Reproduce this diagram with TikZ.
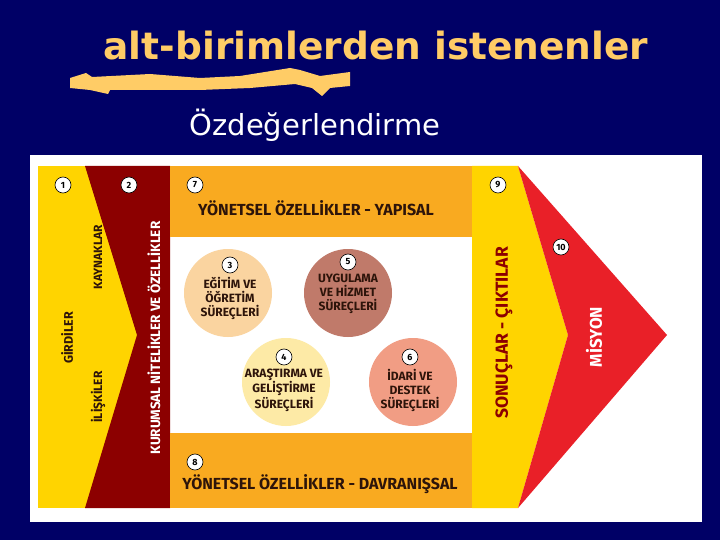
\documentclass[tikz,border=0pt]{standalone}
\usepackage{fontspec}
\usetikzlibrary{positioning}
\newfontfamily\lblfont{Fira Sans}
\newfontfamily\ttlfont{DejaVu Sans}
\definecolor{navy}{RGB}{0,0,102}
\definecolor{sari}{RGB}{255,212,0}
\definecolor{bordo}{RGB}{140,0,0}
\definecolor{turuncu}{RGB}{249,170,32}
\definecolor{kirmizi}{RGB}{233,32,40}
\definecolor{baslik}{RGB}{255,204,102}
\definecolor{c3}{RGB}{250,212,160}
\definecolor{c5}{RGB}{192,122,106}
\definecolor{c4}{RGB}{253,234,166}
\definecolor{c6}{RGB}{241,157,132}
\definecolor{koyu}{RGB}{45,20,10}
\tikzset{
  num/.style={circle,draw=black,fill=white,line width=0.6pt,inner sep=0pt,minimum size=16pt,
    font=\lblfont\bfseries\fontsize{9}{9}\selectfont},
  surec/.style={circle,minimum size=88pt,inner sep=0pt},
  yazi/.style={align=center,text=koyu,font=\lblfont\bfseries\fontsize{12}{14}\selectfont},
  bant/.style={text=koyu,font=\lblfont\bfseries\fontsize{16}{16}\selectfont},
  dikey/.style={rotate=90,font=\lblfont\bfseries\fontsize{#1}{#1}\selectfont}
}
\begin{document}
\begin{tikzpicture}[x=1pt,y=-1pt]
    \fill[navy] (0,0) rectangle (720,540);
    \useasboundingbox (0,0) rectangle (720,540);
    % baslik
    \node[text=baslik,font=\ttlfont\bfseries\fontsize{37.5}{37.5}\selectfont] (ttl) at (376,46) {alt-birimlerden istenenler};
    \fill[baslik] (70,78) -- (86,73) -- (92,77) -- (150,74) -- (200,78) -- (240,76) -- (290,68) -- (300,70)
      -- (320,76) -- (350,72) -- (350,86) -- (330,88) -- (322,96) -- (312,88) -- (295,84) -- (250,88)
      -- (200,90) -- (150,90) -- (110,90) -- (108,94) -- (90,90) -- (70,88) -- cycle;
    \node[text=white,font=\ttlfont\fontsize{29}{29}\selectfont] (alt) at (315,125) {Özdeğerlendirme};
    % panel
    \fill[white] (30,155) rectangle (702,522);
    \fill[sari] (38,166) rectangle (170,508);
    \fill[bordo] (85,166) -- (170,166) -- (170,508) -- (85,508) -- (137,335) -- cycle;
    \fill[turuncu] (170,166) rectangle (472,237);
    \fill[turuncu] (170,433) rectangle (472,508);
    \fill[sari] (472,166) -- (518,166) -- (568,335) -- (518,508) -- (472,508) -- cycle;
    \fill[kirmizi] (518,166) -- (667,335) -- (518,508) -- (568,335) -- cycle;
    % surecler
    \node[surec,fill=c3] (s3) at (228,293) {};
    \node[surec,fill=c5] (s5) at (348,293) {};
    \node[surec,fill=c4] (s4) at (286,382) {};
    \node[surec,fill=c6] (s6) at (413,382) {};
    \node[num] (n3) at (230,265) {3};
    \node[num] (n5) at (348,262) {5};
    \node[num] (n4) at (284,357) {4};
    \node[num] (n6) at (410,357) {6};
    \node[yazi,below=0pt of n3] (t3) {EĞİTİM VE\\ÖĞRETİM\\SÜREÇLERİ};
    \node[yazi,below=0pt of n5] (t5) {UYGULAMA\\VE HİZMET\\SÜREÇLERİ};
    \node[yazi,below=0pt of n4] (t4) {ARAŞTIRMA VE\\GELİŞTİRME\\SÜREÇLERİ};
    \node[yazi,below=0pt of n6] (t6) {İDARİ VE\\DESTEK\\SÜREÇLERİ};
    % numaralar
    \node[num] (n1) at (63,185) {1};
    \node[num] (n2) at (129,185) {2};
    \node[num] (n7) at (195,185) {7};
    \node[num] (n8) at (195,462) {8};
    \node[num] (n9) at (498,185) {9};
    \node[num] (n10) at (561,247) {10};
    % bantlar
    \node[bant] (yap) at (316,208) {YÖNETSEL ÖZELLİKLER - YAPISAL};
    \node[bant] (dav) at (320,484) {YÖNETSEL ÖZELLİKLER - DAVRANIŞSAL};
    % dikey yazilar
    \node[dikey=12.5,text=koyu] (gir) at (67,338) {GİRDİLER};
    \node[dikey=12,text=koyu] (kay) at (98,257) {KAYNAKLAR};
    \node[dikey=12,text=koyu] (ili) at (98,397) {İLİŞKİLER};
    \node[dikey=13.5,text=white] (kur) at (154,338) {KURUMSAL NİTELİKLER VE ÖZELLİKLER};
    \node[dikey=17.5,text=bordo] (son) at (504,333) {SONUÇLAR - ÇIKTILAR};
    \node[dikey=17,text=white] (mis) at (594,337) {MİSYON};
\end{tikzpicture}
\end{document}
